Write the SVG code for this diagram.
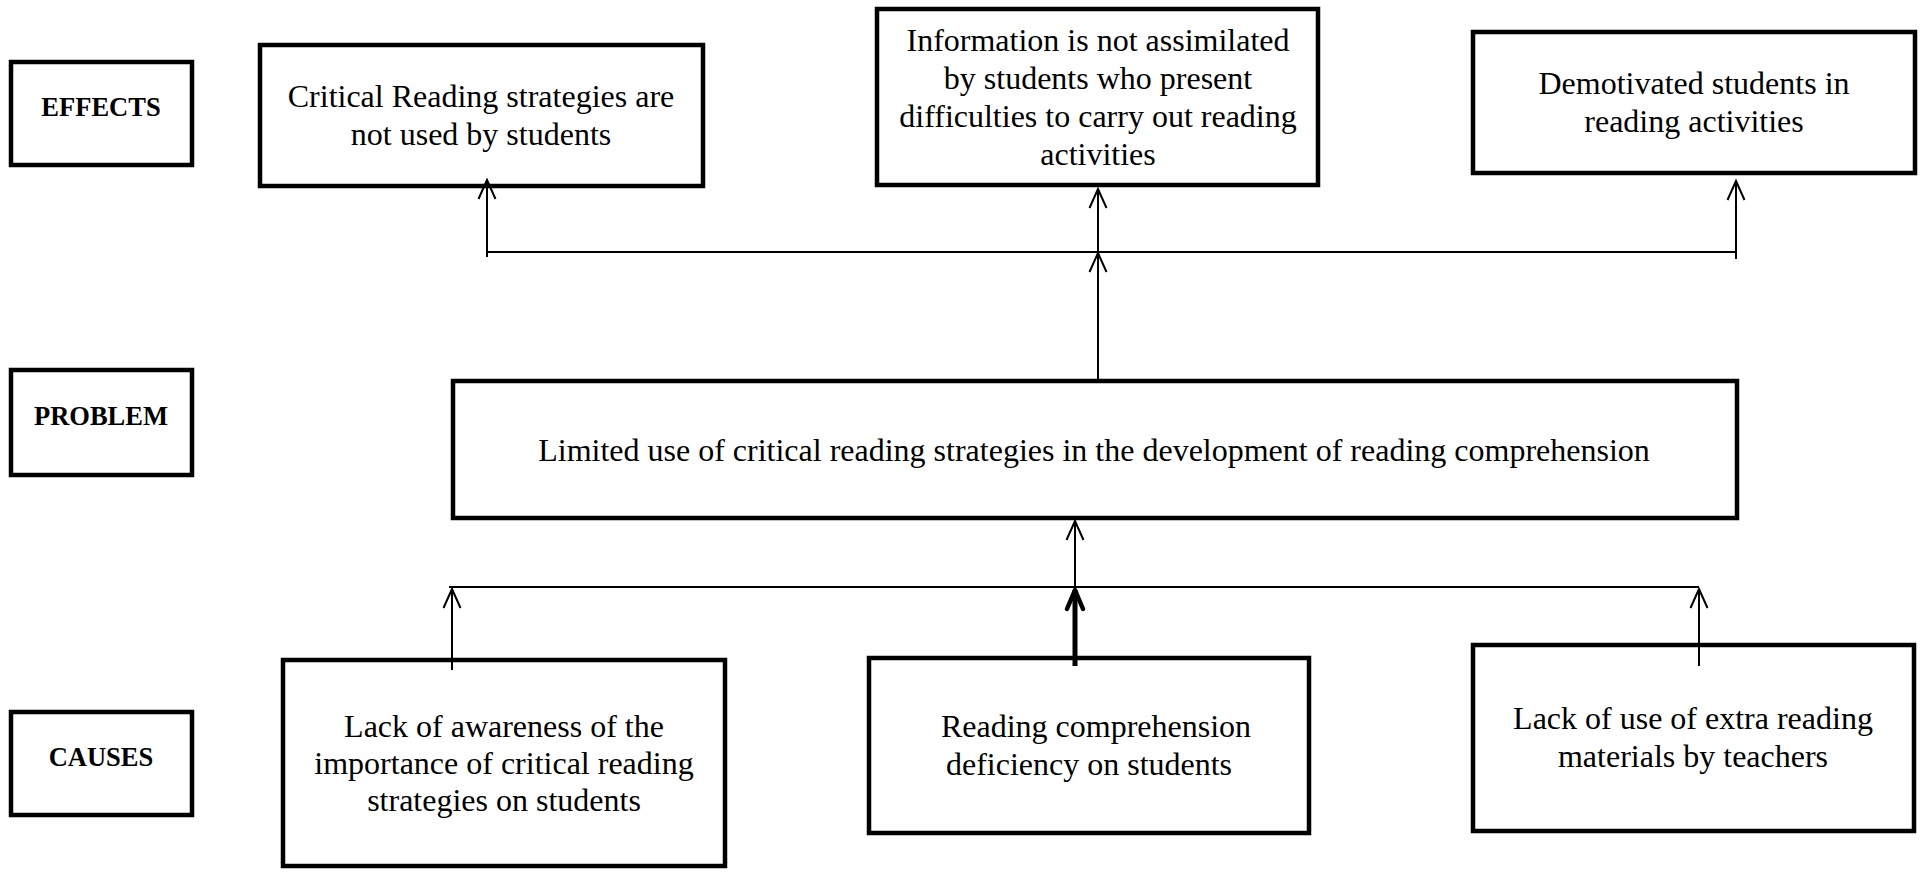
<svg xmlns="http://www.w3.org/2000/svg" width="1921" height="873" viewBox="0 0 1921 873">
<style>
.box{fill:#fff;stroke:#000;stroke-width:4.5}
.t{font-family:"Liberation Serif","Times New Roman",serif;font-size:32px;fill:#000;text-anchor:middle}
.lbl{font-family:"Liberation Serif","Times New Roman",serif;font-size:26.5px;font-weight:bold;fill:#000;text-anchor:middle}
.c{fill:none;stroke:#000;stroke-width:2}
.ct{fill:none;stroke:#000;stroke-width:5}
</style>
<defs>
<marker id="arr" markerUnits="userSpaceOnUse" viewBox="-22 -11 24 22" refX="0" refY="0" markerWidth="24" markerHeight="22" orient="auto" overflow="visible">
<path d="M-19,-8.5 L0,0 L-19,8.5" fill="none" stroke="#000" stroke-width="2"/>
</marker>
<marker id="arrT" markerUnits="userSpaceOnUse" viewBox="-22 -11 24 22" refX="0" refY="0" markerWidth="24" markerHeight="22" orient="auto" overflow="visible">
<path d="M-19,-8 L0,0 L-19,8" fill="none" stroke="#000" stroke-width="4.5" stroke-linecap="round" stroke-linejoin="round"/>
</marker>
</defs>
<rect width="1921" height="873" fill="#fff"/>

<g id="label-effects">
<rect class="box" x="11" y="62" width="181" height="103"/>
<text class="lbl" x="101" y="116">EFFECTS</text>
</g>
<g id="label-problem">
<rect class="box" x="11" y="370" width="181" height="105"/>
<text class="lbl" x="101" y="425">PROBLEM</text>
</g>
<g id="label-causes">
<rect class="box" x="11" y="712" width="181" height="103"/>
<text class="lbl" x="101" y="766">CAUSES</text>
</g>

<g id="effect1">
<rect class="box" x="260" y="45" width="443" height="141"/>
<text class="t" x="481" y="107">Critical Reading strategies are</text>
<text class="t" x="481" y="145">not used by students</text>
</g>
<g id="effect2">
<rect class="box" x="877" y="9" width="441" height="176"/>
<text class="t" x="1098" y="51">Information is not assimilated</text>
<text class="t" x="1098" y="89">by students who present</text>
<text class="t" x="1098" y="127">difficulties to carry out reading</text>
<text class="t" x="1098" y="165">activities</text>
</g>
<g id="effect3">
<rect class="box" x="1473" y="32" width="442" height="141"/>
<text class="t" x="1694" y="94">Demotivated students in</text>
<text class="t" x="1694" y="132">reading activities</text>
</g>

<g id="problem">
<rect class="box" x="453" y="381" width="1284" height="137"/>
<text class="t" x="1094" y="461">Limited use of critical reading strategies in the development of reading comprehension</text>
</g>

<g id="cause1">
<rect class="box" x="283" y="660" width="442" height="206"/>
<text class="t" x="504" y="737">Lack of awareness of the</text>
<text class="t" x="504" y="774">importance of critical reading</text>
<text class="t" x="504" y="811">strategies on students</text>
</g>
<g id="cause2">
<rect class="box" x="869" y="658" width="440" height="175"/>
<text class="t" x="1096" y="737">Reading comprehension</text>
<text class="t" x="1089" y="775">deficiency on students</text>
</g>
<g id="cause3">
<rect class="box" x="1473" y="645" width="441" height="186"/>
<text class="t" x="1693" y="729">Lack of use of extra reading</text>
<text class="t" x="1693" y="767">materials by teachers</text>
</g>

<g id="connectors">
<line class="c" x1="487" y1="252" x2="1736" y2="252"/>
<line class="c" x1="487" y1="257" x2="487" y2="180" marker-end="url(#arr)"/>
<line class="c" x1="1098" y1="379" x2="1098" y2="253" marker-end="url(#arr)"/>
<line class="c" x1="1098" y1="253" x2="1098" y2="189" marker-end="url(#arr)"/>
<line class="c" x1="1736" y1="259" x2="1736" y2="181" marker-end="url(#arr)"/>

<line class="c" x1="449" y1="587" x2="1699" y2="587"/>
<line class="c" x1="452" y1="670" x2="452" y2="589" marker-end="url(#arr)"/>
<line class="ct" x1="1075" y1="666" x2="1075" y2="590" marker-end="url(#arrT)"/>
<line class="c" x1="1075" y1="587" x2="1075" y2="521" marker-end="url(#arr)"/>
<line class="c" x1="1699" y1="666" x2="1699" y2="589" marker-end="url(#arr)"/>
</g>
</svg>
